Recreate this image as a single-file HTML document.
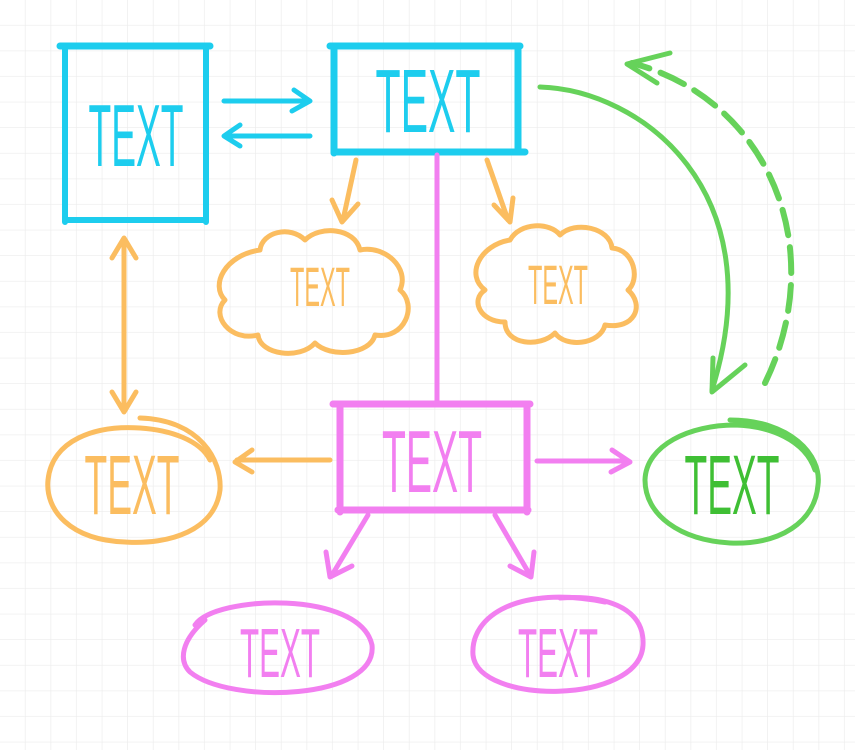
<!DOCTYPE html>
<html><head><style>
html,body{margin:0;padding:0;background:#fff}
svg{display:block}
text{font-family:"Liberation Sans",sans-serif;text-anchor:middle}
</style></head><body>
<svg width="855" height="750" viewBox="0 0 855 750" xmlns="http://www.w3.org/2000/svg">
<defs>
<pattern id="g" width="25.6" height="25.6" patternUnits="userSpaceOnUse" x="0" y="0">
<path d="M25.6 0V25.6M0 25.6H25.6" stroke="#ececec" stroke-width="1.3" fill="none"/>
</pattern>
</defs>
<rect width="855" height="750" fill="url(#g)"/>
<g fill="none" stroke-linecap="round" stroke-linejoin="round">
<g stroke="#1dcdee">
<path d="M60 46H210" stroke-width="7"/>
<path d="M65 48V222M206 48V222M65 220H204" stroke-width="6"/>
<path d="M330 46H520M334 46V153M518 46V150M334 152H525" stroke-width="7"/>
<path d="M224 101H308M294 90L310 101L292 111" stroke-width="5"/>
<path d="M310 136H226M240 125L224 136L240 146" stroke-width="5"/>
</g>
<g stroke="#f27ff0">
<path d="M437 155V405" stroke-width="5"/>
<path d="M333 404H530M340 404V512M527 404V512M338 510H528" stroke-width="7"/>
<path d="M537 461H628M612 450L630 462L611 472" stroke-width="5"/>
<path d="M368 515L332 575M326 552L330 577L352 566" stroke-width="5"/>
<path d="M495 515L530 575M534 552L531 577L510 566" stroke-width="5"/>
<path d="M195 625C215 595 360 590 372 645C378 700 230 705 190 672C178 660 182 640 205 620" stroke-width="5"/>
<path d="M605 602C520 585 470 615 473 655C478 705 640 705 643 645C645 605 600 595 560 598" stroke-width="5"/>
</g>
<g stroke="#fbbd60">
<path d="M124 240V410M112 258L124 238L136 258M112 392L124 412L136 392" stroke-width="5"/>
<path d="M330 460H237M252 450L235 462L252 472" stroke-width="5"/>
<path d="M356 160L343 220M332 200L342 222L358 204" stroke-width="5"/>
<path d="M487 160L508 220M494 205L510 222L513 198" stroke-width="5"/>
<path d="M140 418C200 420 222 460 220 490C215 530 170 545 125 542C70 540 45 510 48 480C52 440 95 425 140 428C170 430 200 440 210 460" stroke-width="5"/>
<path d="M260 250C262 232 290 225 305 240C320 225 355 228 360 250C385 245 410 268 400 290C418 305 405 340 375 335C370 355 330 358 315 343C300 360 260 355 258 335C230 342 210 315 225 300C210 285 225 255 260 250Z" stroke-width="5"/>
<path d="M510 240C520 222 550 222 560 235C575 220 610 228 612 248C635 250 640 280 628 290C645 305 635 330 605 325C600 345 565 348 555 333C540 348 505 345 505 322C480 322 470 300 485 290C465 275 480 245 510 240Z" stroke-width="5"/>
</g>
<g stroke="#66d25a">
<path d="M730 420C790 420 822 455 818 485C815 522 780 545 730 543C680 540 645 515 645 480C646 445 690 425 735 425C770 426 805 440 815 470" stroke-width="5"/>
<path d="M540 87C640 90 775 190 712 390" stroke-width="5"/>
<path d="M713 358L712 392L745 365" stroke-width="5"/>
<path d="M765 383C830 250 770 100 632 63" stroke-width="6" stroke-dasharray="26 12"/>
<path d="M670 53L627 64L657 83" stroke-width="5"/>
</g>
</g>
<g>
<text x="136" y="166" font-size="88" fill="#1dcdee" textLength="95" lengthAdjust="spacingAndGlyphs">TEXT</text>
<text x="428" y="132" font-size="90" fill="#1dcdee" textLength="105" lengthAdjust="spacingAndGlyphs">TEXT</text>
<text x="432" y="492" font-size="88" fill="#f27ff0" textLength="100" lengthAdjust="spacingAndGlyphs">TEXT</text>
<text x="132" y="514" font-size="84" fill="#fbbd60" textLength="95" lengthAdjust="spacingAndGlyphs">TEXT</text>
<text x="732" y="514" font-size="84" fill="#3fbf34" textLength="95" lengthAdjust="spacingAndGlyphs">TEXT</text>
<text x="320" y="306" font-size="56" fill="#fbbd60" textLength="60" lengthAdjust="spacingAndGlyphs">TEXT</text>
<text x="558" y="304" font-size="56" fill="#fbbd60" textLength="60" lengthAdjust="spacingAndGlyphs">TEXT</text>
<text x="280" y="677" font-size="70" fill="#f27ff0" textLength="80" lengthAdjust="spacingAndGlyphs">TEXT</text>
<text x="558" y="677" font-size="70" fill="#f27ff0" textLength="80" lengthAdjust="spacingAndGlyphs">TEXT</text>
</g>
</svg>
</body></html>
